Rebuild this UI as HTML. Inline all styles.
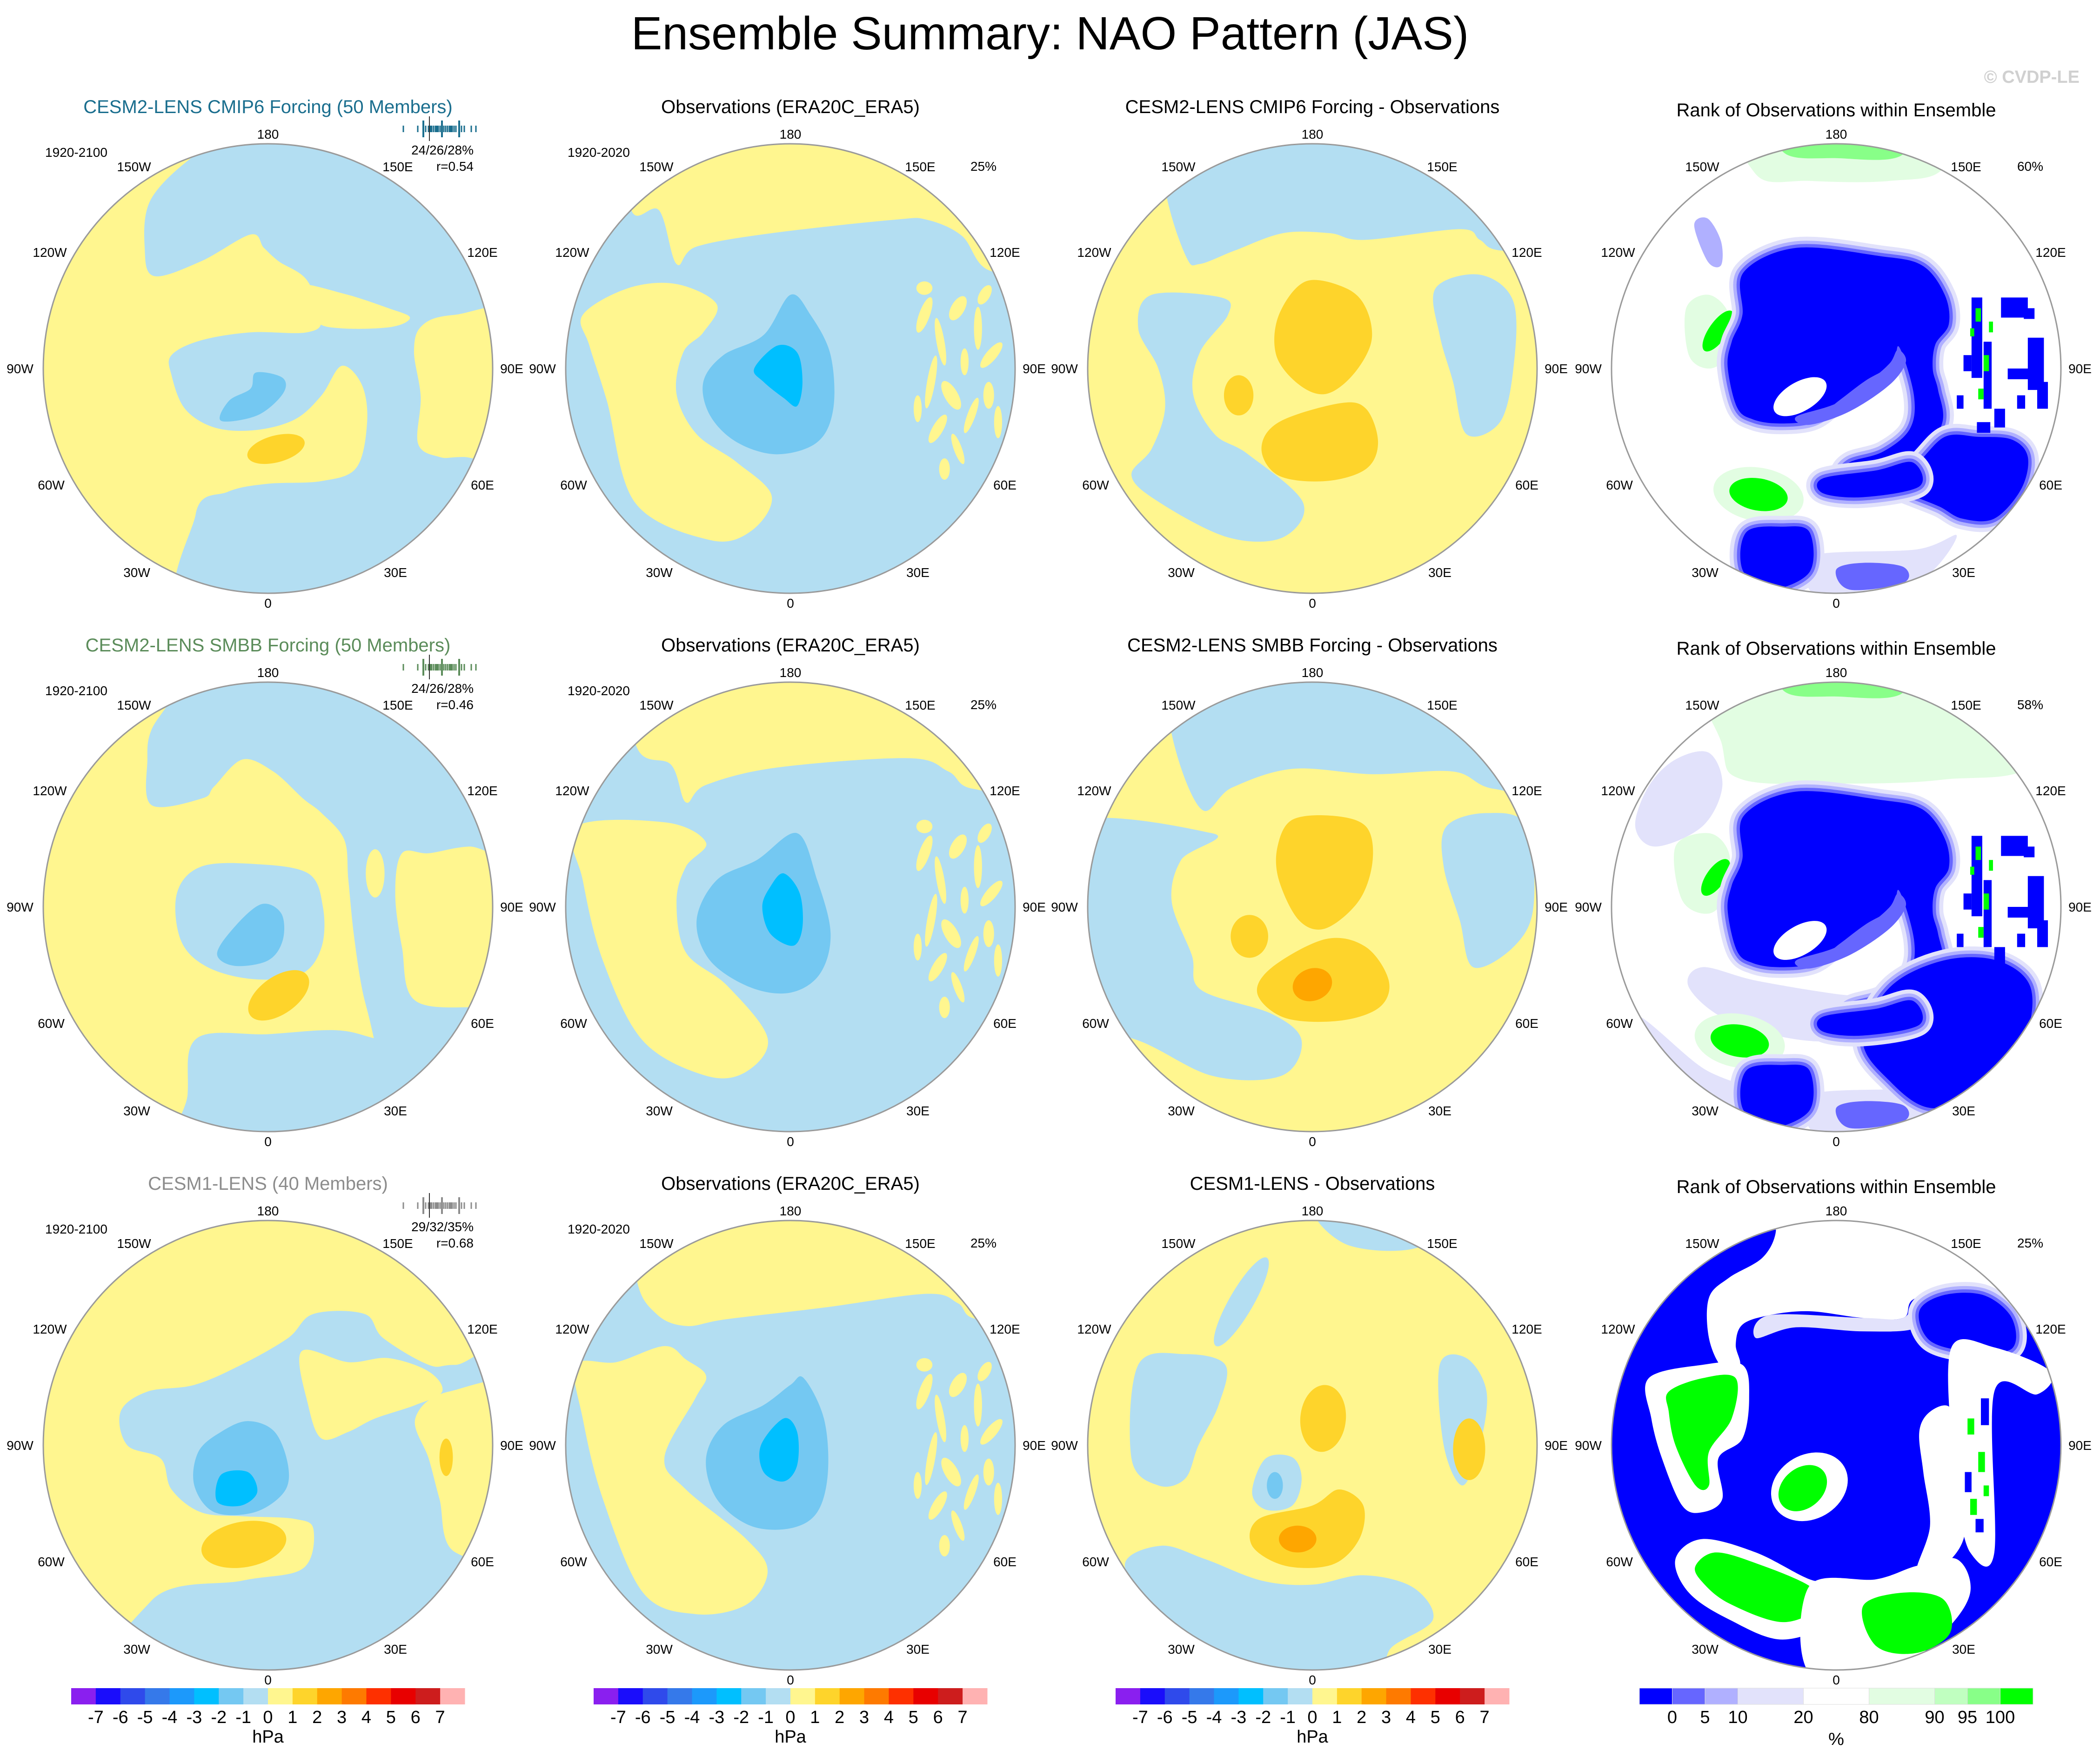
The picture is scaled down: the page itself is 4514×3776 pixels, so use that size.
<!DOCTYPE html>
<html><head><meta charset="utf-8"><title>Ensemble Summary: NAO Pattern (JAS)</title>
<style>html,body{margin:0;padding:0;background:#fff}svg{display:block}text{font-family:"Liberation Sans",sans-serif}</style>
</head><body>
<svg id="fig" xmlns="http://www.w3.org/2000/svg" width="4514" height="3776" viewBox="0 0 4514 3776">
<rect width="4514" height="3776" fill="#fff"/>
<text x="2257" y="106" font-size="100" text-anchor="middle" fill="#000">Ensemble Summary: NAO Pattern (JAS)</text>
<text x="4470" y="178" font-size="38" font-weight="bold" text-anchor="end" fill="#d0d0d0">© CVDP-LE</text>
<defs id="defs"></defs>
<g id="panels"></g>
</svg>
<script>
// colour-bar data
const hpaColors = ['#8a1fef','#1a0dfb','#2f4aeb','#3579ea','#1c99fb','#00bfff','#74c8f2','#b3def2','#fff68f','#fed42b','#fea600','#fe7a00','#fe3000','#e80000','#cd1d1d','#ffb2b2'];
const hpaLabels = ['-7','-6','-5','-4','-3','-2','-1','0','1','2','3','4','5','6','7'];
const rankColors = ['#0000ff','#6666ff','#b0b0ff','#e2e2fb','#ffffff','#e2fde2','#c0ffc0','#88ff88','#00ff00'];
const rankUnits = [1,1,1,2,2,2,1,1,1];
const rankLabels = ['0','5','10','20','80','90','95','100'];

const NS='http://www.w3.org/2000/svg';
const colX=[576,1699,2821,3947], rowY=[792,1949,3106], R=483, S=2.88;
const Y='#fff68f',LB='#b3def2',MB='#74c8f2',CY='#00bfff',O1='#fed42b',O2='#fea600',
B='#0000ff',B2='#6666ff',B3='#b0b0ff',B4='#e2e2fb',W='#ffffff',G1='#e2fde2',G2='#c0ffc0',G3='#88ff88',G='#00ff00';

function mk(tag,attrs,parent){const e=document.createElementNS(NS,tag);for(const k in attrs)e.setAttribute(k,attrs[k]);parent.appendChild(e);return e;}
function smooth(p){let d='M'+p[0][0]+','+p[0][1];const n=p.length;
 for(let i=0;i<n;i++){const p0=p[(i-1+n)%n],p1=p[i],p2=p[(i+1)%n],p3=p[(i+2)%n];
  const c1=[p1[0]+(p2[0]-p0[0])/6,p1[1]+(p2[1]-p0[1])/6],c2=[p2[0]-(p3[0]-p1[0])/6,p2[1]-(p3[1]-p1[1])/6];
  d+='C'+c1[0].toFixed(1)+','+c1[1].toFixed(1)+' '+c2[0].toFixed(1)+','+c2[1].toFixed(1)+' '+p2[0]+','+p2[1];}
 return d+'Z';}

const obsSpeckles=[[100,-40,4,14,20],[112,-20,3,18,-10],[125,-45,5,10,30],[140,-30,3,16,0],[150,-10,4,12,40],[105,10,3,20,10],[120,20,5,12,-30],[135,35,3,14,20],[148,20,4,10,0],[110,45,4,12,30],[125,60,3,12,-20],[100,-60,6,5,0],[155,40,3,12,0],[95,30,3,10,0],[130,-5,3,10,0],[115,75,4,8,0],[145,-55,4,8,30]];
function obsPanel(cap,left,mb,cy){const a=[['p',Y,cap],['p',Y,left]];obsSpeckles.forEach(s=>a.push(['e',Y,s]));a.push(['p',MB,mb],['p',CY,cy]);return a;}
const capA=[[-200,-200],[200,-200],[200,-73],[149,-73],[128,-99],[102,-111],[77,-111],[-14,-101],[-70,-91],[-85,-78],[-98,-118],[-119,-119],[-125,-200]];
const leftA=[[-155,-40],[-121,-60],[-85,-63],[-55,-48],[-65,-27],[-80,-12],[-85,19],[-70,49],[-40,70],[-14,95],[-29,121],[-60,128],[-116,100],[-137,24],[-150,-17]];
const mbA=[[0,-55],[15,-40],[30,-10],[32,30],[20,55],[-10,64],[-40,55],[-60,35],[-65,10],[-50,-10],[-20,-25]];
const cyA=[[-10,-17],[5,-12],[9,10],[5,28],[-5,22],[-20,10],[-27,0]];

const massA=[[-69,-72],[-30,-90],[32,-84],[64,-77],[81,-55],[84,-33],[74,-18],[72,0],[76,16],[79,41],[60,70],[30,82],[5,80],[10,70],[35,62],[55,45],[58,20],[47,-16],[42,-3],[22,9],[2,24],[-17,38],[-42,41],[-62,38],[-74,29],[-81,-1],[-78,-20],[-70,-40]];
const massB=[[57,73],[81,51],[106,51],[131,53],[143,66],[138,90],[118,112],[94,112],[77,103],[57,95],[32,85],[30,78]];
const speck=[[101,-53,8,60],[110,-20,6,50],[143,-23,12,39],[123,-53,20,15],[128,0,18,8],[95,-10,6,12],[118,30,8,14],[135,20,6,10],[150,10,8,20],[105,40,10,8],[90,20,5,10],[140,-45,8,8]];
const speckG=[[104,-45,4,10],[110,-10,4,12],[106,15,4,8],[100,-30,3,6],[114,-35,3,8]];
function rankRows(extra,shift,bigB){const a=extra.slice();
 a.push(['s',B,massA.map(p=>[p[0],p[1]+shift])]);
 a.push(['e',W,[-27,21+shift,22,11,-30]]);
 a.push(['p',B2,[[-30,36],[0,26],[25,9],[40,-4],[46,-14],[52,-5],[40,12],[10,32],[-20,42]].map(p=>[p[0],p[1]+shift])]);
 a.push(['s',B,bigB?[[40,60],[80,40],[120,40],[145,60],[140,100],[110,140],[70,150],[40,130],[20,100]]:massB]);
 a.push(['s',B,[[-10,82],[30,76],[57,70],[62,88],[20,96],[-10,93]]]);
 speck.forEach(s=>a.push(['r',B,s]));
 speckG.forEach(s=>a.push(['r',G,s]));
 a.push(['s',B,[[-67,122],[-40,118],[-20,122],[-20,152],[-50,165],[-70,150]]]);
 a.push(['p',B2,[[0,150],[20,145],[50,148],[50,160],[10,165]]]);
 return a;}

const panels=[
 [Y,[['p',LB,[[-4,-180],[200,-180],[200,200],[-50,200],[-54,109],[-30,92],[0,86],[40,84],[66,74],[74,40],[70,12],[55,-2],[40,20],[20,38],[-10,46],[-40,44],[-62,30],[-72,5],[-72,-10],[-50,-21],[-13,-27],[29,-27],[40,-37],[29,-66],[8,-80],[-3,-90],[-13,-100],[-50,-80],[-85,-69],[-92,-90],[-88,-125],[-60,-155],[-30,-172]]],
   ['p',Y,[[139,-40],[115,-32],[109,-13],[114,21],[112,56],[128,66],[146,66],[200,66],[200,-40]]],
   ['p',Y,[[22,-62],[56,-56],[90,-45],[106,-38],[92,-31],[55,-30],[35,-36]]],
   ['p',MB,[[-9,3],[11,7],[11,19],[-8,35],[-35,39],[-29,24],[-13,15]]],
   ['e',O1,[6,60,22,10,-15]]]],
 [LB,obsPanel(capA,leftA,mbA,cyA)],
 [Y,[['p',LB,[[-200,-200],[200,-200],[200,-88],[141,-88],[125,-96],[110,-104],[39,-96],[13,-101],[-22,-101],[-58,-88],[-84,-78],[-94,-83],[-109,-129],[-120,-200]]],
   ['p',LB,[[-120,-55],[-68,-53],[-63,-40],[-84,-12],[-89,19],[-73,49],[-48,64],[-7,100],[-22,126],[-63,126],[-114,100],[-135,80],[-120,60],[-110,30],[-115,0],[-130,-30]]],
   ['p',LB,[[92,-60],[125,-70],[150,-50],[150,0],[140,40],[115,49],[105,10],[95,-25]]],
   ['p',O1,[[-5,-65],[25,-60],[40,-45],[44,-20],[30,5],[10,19],[-10,12],[-27,-10],[-25,-40]]],
   ['p',O1,[[20,26],[40,30],[49,55],[40,75],[10,84],[-25,80],[-38,60],[-25,40]]],
   ['e',O1,[-55,20,11,15,0]]]],
 [W,rankRows([['p',G1,[[-70,-200],[80,-200],[80,-150],[40,-140],[-20,-140],[-60,-145]]],['p',G3,[[-40,-200],[50,-200],[50,-160],[0,-157],[-40,-162]]],
   ['p',B3,[[-106,-107],[-96,-112],[-86,-95],[-86,-77],[-96,-80]]],
   ['p',G1,[[-112,-45],[-95,-55],[-80,-40],[-82,-10],[-95,0],[-110,-10]]],['e',G,[-88,-28,18,7,-55]],
   ['e',G1,[-58,94,34,20,10]],['e',G,[-58,94,22,12,10]],
   ['p',B4,[[-20,140],[60,135],[90,125],[60,160],[0,170],[-20,165]]]],0,false)],
 [Y,[['p',LB,[[-60,-200],[200,-200],[200,-45],[150,-45],[120,-40],[100,-40],[95,-10],[100,30],[110,70],[160,75],[200,75],[200,200],[100,200],[79,98],[70,60],[64,20],[60,-20],[57,-50],[40,-70],[26,-81],[4,-101],[-19,-110],[-40,-90],[-49,-81],[-87,-76],[-90,-110],[-87,-132],[-70,-160]]],
   ['p',LB,[[-53,98],[0,95],[50,92],[79,98],[120,110],[120,200],[-60,200],[-60,140]]],
   ['p',LB,[[-68,-10],[-50,-30],[-10,-32],[30,-25],[41,0],[40,30],[25,50],[-10,54],[-45,45],[-65,25]]],
   ['e',Y,[80,-25,7,18,0]],
   ['p',MB,[[-5,-2],[10,5],[11,25],[0,40],[-25,44],[-38,35],[-25,15]]],
   ['e',O1,[8,66,26,14,-35]]]],
 [LB,obsPanel([[-200,-200],[200,-200],[200,-88],[137,-88],[118,-101],[88,-111],[-10,-104],[-63,-91],[-78,-78],[-89,-106],[-115,-120],[-125,-200]],
   [[-160,-60],[-93,-63],[-63,-48],[-78,-30],[-85,-4],[-78,34],[-47,59],[-17,98],[-33,123],[-63,126],[-110,100],[-140,40],[-155,-20]],
   [[5,-55],[20,-20],[30,20],[22,50],[0,64],[-30,60],[-60,40],[-70,10],[-55,-20],[-25,-35]],
   [[-5,-25],[7,-10],[9,15],[2,29],[-15,20],[-21,0],[-15,-15]])],
 [Y,[['p',LB,[[-200,-200],[200,-200],[200,-88],[136,-88],[105,-101],[45,-99],[-15,-103],[-60,-89],[-83,-73],[-105,-129],[-110,-200]]],
   ['p',LB,[[-200,-55],[-75,-55],[-98,-35],[-105,-4],[-90,36],[-83,62],[-30,80],[-8,100],[-23,126],[-75,126],[-135,98],[-200,90]]],
   ['p',LB,[[100,-60],[130,-70],[160,-60],[165,0],[150,30],[120,45],[110,10],[98,-30]]],
   ['p',O1,[[-15,-65],[15,-68],[40,-60],[45,-35],[35,-5],[10,16],[-10,10],[-25,-20],[-26,-45]]],
   ['p',O1,[[10,24],[40,30],[57,55],[50,75],[20,85],[-20,83],[-41,65],[-30,45]]],
   ['e',O2,[0,58,15,12,-20]],['e',O1,[-47,22,14,16,0]]]],
 [W,rankRows([['p',G1,[[-90,-200],[150,-200],[150,-110],[80,-95],[0,-92],[-70,-95],[-85,-120]]],['p',G3,[[-40,-200],[50,-200],[50,-160],[0,-157],[-40,-162]]],
   ['p',B4,[[-120,-110],[-95,-115],[-85,-90],[-100,-60],[-135,-45],[-150,-60],[-140,-90]]],
   ['p',G1,[[-120,-45],[-95,-55],[-80,-40],[-82,-10],[-95,5],[-115,-5]]],['e',G,[-90,-22,16,7,-55]],
   ['p',B4,[[-100,45],[-60,55],[0,65],[40,68],[60,75],[40,95],[-20,100],[-80,85],[-110,60]]],
   ['p',B4,[[-150,80],[-100,120],[-60,140],[-120,150],[-160,100]]],
   ['e',G1,[-72,100,34,20,10]],['e',G,[-72,100,22,12,10]],
   ['p',B4,[[-20,140],[60,135],[90,125],[60,160],[0,170],[-20,165]]]],4,true)],
 [Y,[['p',LB,[[-110,-25],[-90,-40],[-55,-45],[-20,-60],[15,-80],[34,-98],[72,-98],[86,-80],[120,-60],[140,-60],[200,-60],[200,200],[-110,200],[-87,116],[-19,101],[26,92],[34,63],[20,55],[-19,53],[-50,50],[-72,33],[-80,10],[-105,0]]],
   ['p',Y,[[25,-70],[60,-62],[90,-65],[120,-55],[130,-40],[110,-30],[80,-20],[60,-10],[40,-5],[30,-30]]],
   ['p',Y,[[110,-20],[135,-40],[200,-40],[200,80],[140,80],[128,40],[120,10]]],
   ['p',MB,[[-15,-18],[5,-10],[15,15],[12,35],[-10,50],[-40,50],[-55,30],[-52,5],[-35,-10]]],
   ['p',CY,[[-35,22],[-15,20],[-8,35],[-20,45],[-38,42]]],
   ['e',O1,[-18,74,32,17,-10]],['e',O1,[133,9,5,14,0]]]],
 [LB,obsPanel([[-200,-200],[200,-200],[200,-94],[140,-94],[125,-106],[102,-113],[27,-103],[-48,-94],[-78,-89],[-100,-98],[-115,-125],[-120,-200]],
   [[-160,-60],[-130,-62],[-94,-74],[-78,-64],[-63,-52],[-71,-35],[-94,9],[-78,33],[-33,70],[-17,94],[-33,119],[-71,126],[-110,110],[-140,40],[-155,-20]],
   [[10,-50],[25,-20],[28,20],[20,50],[0,62],[-30,60],[-55,40],[-63,10],[-50,-15],[-20,-30],[0,-45]],
   [[-5,-20],[5,-10],[5,15],[-5,27],[-20,20],[-22,0]])],
 [Y,[['p',LB,[[5,-180],[100,-180],[80,-148],[25,-150]]],
   ['e',LB,[-53,-107,38,9,-60]],
   ['p',LB,[[-130,-60],[-95,-68],[-65,-60],[-70,-30],[-85,0],[-95,25],[-115,30],[-135,10]]],
   ['p',LB,[[-35,10],[-15,9],[-8,25],[-15,45],[-35,48],[-45,35]]],['e',MB,[-28,30,6,10,0]],
   ['p',LB,[[-140,90],[-113,75],[-80,85],[-38,101],[0,104],[38,97],[75,106],[90,130],[60,150],[40,170],[-60,170],[-110,130]]],
   ['p',LB,[[95,-60],[115,-65],[130,-40],[125,0],[112,30],[98,0]]],
   ['e',O1,[8,-20,17,25,5]],
   ['p',O1,[[20,33],[38,45],[35,70],[15,89],[-20,90],[-45,75],[-40,55],[0,45]]],
   ['e',O2,[-11,70,14,10,0]],['e',O1,[117,3,12,23,0]]]],
 [B,[['p',W,[[-50,-180],[140,-180],[140,-110],[110,-115],[60,-110],[50,-95],[20,-95],[-20,-100],[-50,-97],[-70,-90],[-75,-75],[-72,-60],[-85,-58],[-95,-80],[-95,-110],[-80,-125],[-55,-140],[-45,-160]]],
   ['p',B4,[[-50,-97],[20,-95],[50,-95],[60,-110],[60,-88],[20,-85],[-30,-88],[-60,-80]]],
   ['s',B,[[62,-100],[80,-112],[110,-112],[131,-95],[131,-72],[100,-70],[70,-78]]],
   ['p',W,[[-140,-50],[-100,-60],[-70,-60],[-65,-35],[-70,-5],[-88,10],[-85,40],[-100,50],[-115,45],[-130,10],[-138,-20]]],
   ['p',G,[[-125,-40],[-100,-50],[-75,-50],[-78,-20],[-95,5],[-95,30],[-105,30],[-120,0],[-125,-25]]],
   ['e',W,[-20,31,30,24,-30]],['e',G,[-25,32,20,15,-40]],
   ['p',W,[[-120,85],[-100,70],[-60,80],[-20,100],[5,105],[0,130],[-40,145],[-80,130],[-110,110]]],
   ['p',G,[[-105,90],[-90,80],[-60,88],[-20,105],[-12,120],[-40,132],[-80,118],[-100,102]]],
   ['p',W,[[-20,105],[30,100],[60,90],[90,85],[100,110],[80,140],[40,170],[-20,170]]],
   ['p',G,[[20,120],[50,110],[80,115],[85,140],[60,155],[30,150]]],
   ['p',W,[[70,-25],[85,-28],[90,0],[95,40],[95,70],[80,90],[60,95],[70,60],[65,20],[62,-10]]],
   ['p',W,[[86,-73],[118,-73],[160,-55],[150,-38],[118,-40],[118,80],[100,80],[90,40],[86,0]]],
   ['r',G,[98,-20,5,12]],['r',G,[106,5,5,15]],['r',G,[100,40,5,12]],['r',B,[108,-35,6,20]],['r',B,[96,20,5,15]],['r',B,[104,55,6,10]],['r',G,[110,30,4,8]]]]
];

const titles=[
 ['CESM2-LENS CMIP6 Forcing (50 Members)','Observations (ERA20C_ERA5)','CESM2-LENS CMIP6 Forcing - Observations','Rank of Observations within Ensemble'],
 ['CESM2-LENS SMBB Forcing (50 Members)','Observations (ERA20C_ERA5)','CESM2-LENS SMBB Forcing - Observations','Rank of Observations within Ensemble'],
 ['CESM1-LENS (40 Members)','Observations (ERA20C_ERA5)','CESM1-LENS - Observations','Rank of Observations within Ensemble']];
const modelColors=['#1a6e8e','#5b8c5a','#8c8c8c'];
const pctText=[['24/26/28%','r=0.54'],['24/26/28%','r=0.46'],['29/32/35%','r=0.68']];
const rankPct=['60%','58%','25%'];
const lonLabels=[['180',0,-504],['150W',-288,-434],['150E',279,-434],['120W',-469,-250],['120E',461,-250],['90W',-533,0],['90E',524,0],['60W',-466,250],['60E',461,250],['30W',-282,438],['30E',274,438],['0',0,504]];
const tickOffsets=[291,322,339,345,349,352,356,360,363,366,370,378,382,386,390,393,396,400,404,416,422,437,447];
const longTicks=[334,374,411];

const defs=document.getElementById('defs'), root=document.getElementById('panels');
for(let r=0;r<3;r++)for(let c=0;c<4;c++){
 const cx=colX[c], cy=rowY[r], idx=r*4+c, P=panels[idx];
 const cp=mk('clipPath',{id:'clip'+idx},defs); mk('circle',{cx:cx,cy:cy,r:R},cp);
 const g=mk('g',{},root);
 
 
 const bg=mk('circle',{cx:cx,cy:cy,r:R,fill:P[0]},g);
 
 
 const fld=mk('g',{'clip-path':'url(#clip'+idx+')'},g);
 const inner=mk('g',{transform:'translate('+cx+','+cy+') scale('+S+')'},fld);
 P[1].forEach(L=>{
  let el;
  if(L[0]==='e'){const d=L[2];el=mk('ellipse',{cx:d[0],cy:d[1],rx:d[2],ry:d[3],transform:'rotate('+d[4]+' '+d[0]+' '+d[1]+')',fill:L[1]},inner);}
  else if(L[0]==='r'){const d=L[2];el=mk('rect',{x:d[0],y:d[1],width:d[2],height:d[3],fill:L[1]},inner);}
  else if(L[0]==='s'){const d=smooth(L[2]);
   mk('path',{d:d,fill:B4,stroke:B4,'stroke-width':16,'stroke-linejoin':'round'},inner);
   mk('path',{d:d,fill:B3,stroke:B3,'stroke-width':10,'stroke-linejoin':'round'},inner);
   mk('path',{d:d,fill:B2,stroke:B2,'stroke-width':5,'stroke-linejoin':'round'},inner);
   el=mk('path',{d:d,fill:L[1]},inner);}
  else {el=mk('path',{d:smooth(L[2]),fill:L[1]},inner);}
  
  
 });
 const ring=mk('circle',{cx:cx,cy:cy,r:R,fill:'none',stroke:'#9a9a9a','stroke-width':3},g);
 
 
 lonLabels.forEach(l=>{const t=mk('text',{x:cx+l[1],y:cy+l[2]+10,'font-size':28,'text-anchor':'middle',fill:'#000'},g);t.textContent=l[0];
  
  });
 const tt=mk('text',{x:cx,y:(c===3?250:243)+r*1157,'font-size':40,'text-anchor':'middle',fill:c===0?modelColors[r]:'#000'},g);
 tt.textContent=titles[r][c];
 
 
 if(c<2){const t=mk('text',{x:cx-412,y:cy-455,'font-size':28,'text-anchor':'middle',fill:'#000'},g);t.textContent=c===0?'1920-2100':'1920-2020';
  
  }
 if(c===0){
  const t1=mk('text',{x:cx+442,y:cy-460,'font-size':28,'text-anchor':'end',fill:'#000'},g);t1.textContent=pctText[r][0];
  
  
  const t2=mk('text',{x:cx+442,y:cy-425,'font-size':28,'text-anchor':'end',fill:'#000'},g);t2.textContent=pctText[r][1];
  
  
  const tg=mk('g',{},g);
  
  
  tickOffsets.forEach(o=>mk('line',{x1:cx+o,x2:cx+o,y1:cy-522,y2:cy-508,stroke:modelColors[r],'stroke-width':3},tg));
  longTicks.forEach(o=>mk('line',{x1:cx+o,x2:cx+o,y1:cy-533,y2:cy-497,stroke:modelColors[r],'stroke-width':4},tg));
  mk('line',{x1:cx+347,x2:cx+347,y1:cy-542,y2:cy-489,stroke:'#333','stroke-width':2},tg);
 }
 if(c===1){const t=mk('text',{x:cx+415,y:cy-425,'font-size':28,'text-anchor':'middle',fill:'#000'},g);t.textContent='25%';
  
  }
 if(c===3){const t=mk('text',{x:cx+417,y:cy-425,'font-size':28,'text-anchor':'middle',fill:'#000'},g);t.textContent=rankPct[r];
  
  }
}

const cbTop=3628, cbH=35, cbW=846;
for(let c=0;c<3;c++){
 const g=mk('g',{},root);
 
 
 const x0=colX[c]-cbW/2, w=cbW/hpaColors.length;
 hpaColors.forEach((col,i)=>{const b=mk('rect',{x:x0+i*w,y:cbTop,width:w+0.5,height:cbH,fill:col},g);
  
  });
 hpaLabels.forEach((lab,i)=>{const t=mk('text',{x:x0+(i+1)*w,y:3703,'font-size':38,'text-anchor':'middle',fill:'#000'},g);t.textContent=lab;
  
  });
 const u=mk('text',{x:colX[c],y:3745,'font-size':38,'text-anchor':'middle',fill:'#000'},g);u.textContent='hPa';
 
 
}
{
 const g=mk('g',{},root);
 
 
 const tot=rankUnits.reduce((a,b)=>a+b,0), unit=cbW/tot, x0=colX[3]-cbW/2;
 let x=x0; const edges=[];
 rankColors.forEach((col,i)=>{const w=rankUnits[i]*unit;const b=mk('rect',{x:x,y:cbTop,width:w,height:cbH,fill:col,stroke:'#dddddd','stroke-width':1},g);
  
  
  x+=w;edges.push(x);});
 rankLabels.forEach((lab,i)=>{const t=mk('text',{x:edges[i],y:3703,'font-size':38,'text-anchor':'middle',fill:'#000'},g);t.textContent=lab;
  
  });
 const u=mk('text',{x:colX[3],y:3750,'font-size':38,'text-anchor':'middle',fill:'#000'},g);u.textContent='%';
 
 
}
</script>
</body></html>
